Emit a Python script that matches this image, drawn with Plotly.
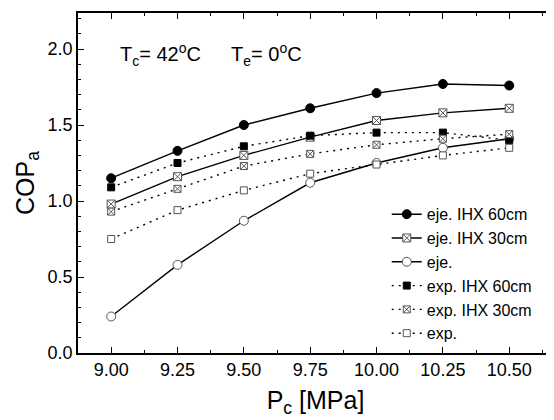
import plotly.graph_objects as go

pc = [9.00, 9.25, 9.50, 9.75, 10.00, 10.25, 10.50]
eje_ihx60 = [1.15, 1.33, 1.50, 1.61, 1.71, 1.77, 1.76]
eje_ihx30 = [0.98, 1.16, 1.30, 1.42, 1.53, 1.58, 1.61]
eje_plain = [0.24, 0.58, 0.87, 1.12, 1.25, 1.35, 1.41]
exp_ihx60 = [1.09, 1.25, 1.36, 1.43, 1.45, 1.45, 1.40]
exp_ihx30 = [0.93, 1.08, 1.23, 1.31, 1.37, 1.41, 1.44]
exp_plain = [0.75, 0.94, 1.07, 1.18, 1.24, 1.30, 1.35]

x_ticks = [9.00, 9.25, 9.50, 9.75, 10.00, 10.25, 10.50]
x_ticklabels = ["9.00", "9.25", "9.50", "9.75", "10.00", "10.25", "10.50"]
y_ticks = [0, 0.5, 1.0, 1.5, 2.0]
y_ticklabels = ["0.0", "0.5", "1.0", "1.5", "2.0"]

FONT = "Liberation Sans, Arial, sans-serif"
GRAY = "#555555"
DOT = "2px,5px"

series = [
    ("eje. IHX 60cm", eje_ihx60, "solid", "circle", "black", "black", 9),
    ("eje. IHX 30cm", eje_ihx30, "solid", "square-x", "white", GRAY, 8),
    ("eje.", eje_plain, "solid", "circle", "white", GRAY, 9),
    ("exp. IHX 60cm", exp_ihx60, DOT, "square", "black", "black", 7),
    ("exp. IHX 30cm", exp_ihx30, DOT, "square-x", "white", GRAY, 7),
    ("exp.", exp_plain, DOT, "square", "white", GRAY, 7),
]

fig = go.Figure()
for name, vals, dash, sym, fill, edge, size in series:
    fig.add_trace(go.Scatter(
        x=pc, y=vals, name=name, mode="lines+markers",
        line=dict(color="black", width=1.4, dash=dash),
        marker=dict(symbol=sym, color=fill, size=size,
                    line=dict(color=edge, width=1)),
    ))

axis_common = dict(
    showline=True, linecolor="black", linewidth=1.5, mirror="ticks",
    ticks="inside", ticklen=6, tickwidth=1.3, tickcolor="black",
    showgrid=False, zeroline=False,
    tickfont=dict(family=FONT, size=18, color="black"),
)

fig.update_xaxes(
    range=[8.875, 10.665], tickvals=x_ticks, ticktext=x_ticklabels,
    minor=dict(ticks="inside", ticklen=3, tickwidth=1.2, tickcolor="black", dtick=0.125, tick0=9.0),
    title=dict(text="P<sub>c</sub> [MPa]", font=dict(family=FONT, size=25, color="black"), standoff=12),
    automargin=True,
    **axis_common,
)
fig.update_yaxes(
    range=[0, 2.237], tickvals=y_ticks, ticktext=y_ticklabels,
    minor=dict(ticks="inside", ticklen=3, tickwidth=1.2, tickcolor="black", dtick=0.1, tick0=0),
    title=dict(text="COP<sub>a</sub>", font=dict(family=FONT, size=25, color="black"), standoff=6),
    **axis_common,
)

fig.add_annotation(
    xref="paper", yref="paper", x=0.084, y=0.878, xanchor="left", yanchor="middle",
    text="T<sub>c</sub>= 42<sup>o</sup>C", showarrow=False,
    font=dict(family=FONT, size=20, color="black"),
)
fig.add_annotation(
    xref="paper", yref="paper", x=0.318, y=0.878, xanchor="left", yanchor="middle",
    text="T<sub>e</sub>= 0<sup>o</sup>C", showarrow=False,
    font=dict(family=FONT, size=20, color="black"),
)

fig.update_layout(
    width=546, height=412,
    margin=dict(l=70, r=1, t=5, b=67, autoexpand=False),
    plot_bgcolor="white", paper_bgcolor="white",
    showlegend=True,
    legend=dict(
        x=0.65, y=0.458, xanchor="left", yanchor="top",
        bgcolor="rgba(0,0,0,0)", borderwidth=0,
        font=dict(family=FONT, size=16, color="black"),
        tracegroupgap=0, itemwidth=30,
    ),
)

fig.write_html("out.html")
